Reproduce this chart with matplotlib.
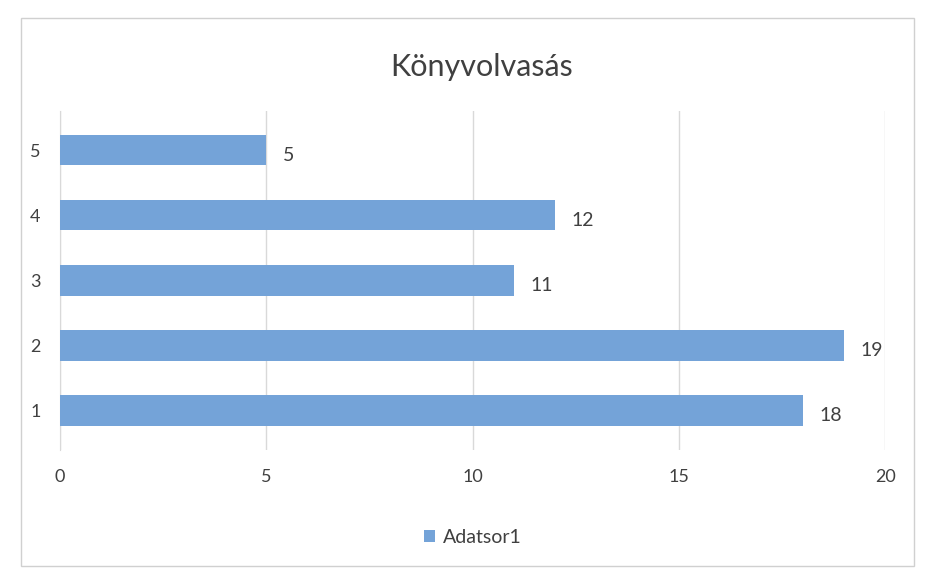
import matplotlib.pyplot as plt
from matplotlib.patches import Rectangle

categories = ["1", "2", "3", "4", "5"]
values = [18, 19, 11, 12, 5]
x_ticks = [0, 5, 10, 15, 20]
title = "Könyvolvasás"
series_name = "Adatsor1"

plt.rcParams["font.family"] = ["Lato", "DejaVu Sans"]
bar_color = "#74a3d8"
text_color = "#404040"

fig = plt.figure(figsize=(9.36, 5.84), dpi=100)
fig.patch.set_facecolor("white")
fig.patches.append(Rectangle((0.022, 0.03), 0.955, 0.94, transform=fig.transFigure,
                             fill=False, edgecolor="#d0d0d0", linewidth=1))

ax = fig.add_axes([0.064, 0.23, 0.882, 0.58])
y = range(len(categories))
bars = ax.barh(y, values, height=0.47, color=bar_color, label=series_name, zorder=3)
for b, v in zip(bars, values):
    ax.text(b.get_width() + 0.4, b.get_y() + b.get_height() / 2 - 0.08, str(v),
            va="center", ha="left", fontsize=14, color=text_color)

ax.set_xlim(0, 20)
ax.set_ylim(-0.6, len(categories) - 0.4)
ax.set_xticks(x_ticks)
ax.set_yticks(list(y))
ax.set_yticklabels(categories)
ax.tick_params(axis="both", length=0, labelsize=13, labelcolor=text_color)
ax.tick_params(axis="x", pad=14)
ax.tick_params(axis="y", pad=14)
ax.grid(axis="x", color="#d9d9d9", linewidth=1, zorder=0)
for s in ["top", "right", "bottom"]:
    ax.spines[s].set_visible(False)
ax.spines["left"].set_color("#d9d9d9")

fig.text(0.515, 0.885, title, ha="center", va="center", fontsize=22, color=text_color)
fig.legend(handles=[bars], labels=[series_name], loc="center", bbox_to_anchor=(0.505, 0.08),
           frameon=False, fontsize=14, handlelength=0.6, handleheight=0.6,
           handletextpad=0.4, labelcolor=text_color)

fig.savefig("out.png", dpi=100)
